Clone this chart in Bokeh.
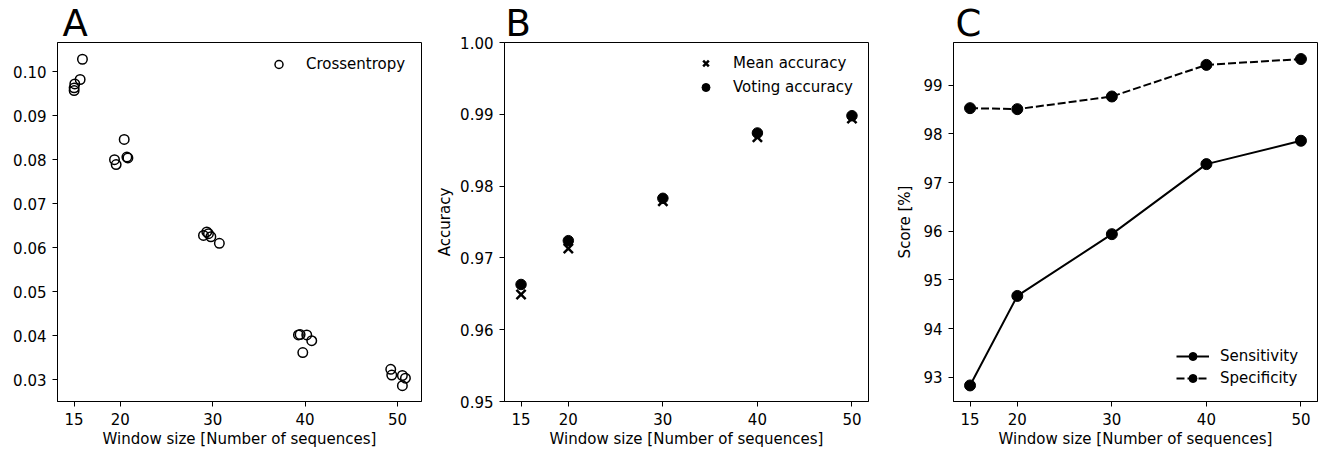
from bokeh.plotting import figure
from bokeh.models import Range1d, FixedTicker, Legend, LegendItem, NumeralTickFormatter
from bokeh.layouts import row
from bokeh.embed import file_html
from bokeh.resources import INLINE

FONT = "DejaVu Sans"
FS = "15px"

window_sizes = [15, 20, 30, 40, 50]
x_tick_labels = ["15", "20", "30", "40", "50"]
x_title = "Window size [Number of sequences]"

# Panel A: crossentropy per run (x slightly jittered around each window size)
ce_x = [15.0, 15.0, 15.07, 15.65, 15.9,
        19.37, 19.55, 20.42, 20.71, 20.82,
        29.0, 29.36, 29.54, 29.8, 30.72,
        39.28, 39.46, 39.75, 40.18, 40.72,
        49.27, 49.38, 50.53, 50.53, 50.86]
ce_y = [0.0957, 0.0963, 0.0972, 0.0982, 0.1028,
        0.0800, 0.0789, 0.0846, 0.0806, 0.0804,
        0.0628, 0.0636, 0.0632, 0.0625, 0.0610,
        0.0402, 0.0403, 0.0362, 0.0402, 0.0389,
        0.0324, 0.0311, 0.0310, 0.0287, 0.0304]
a_yticks = [0.03, 0.04, 0.05, 0.06, 0.07, 0.08, 0.09, 0.10]

# Panel B
mean_acc = [0.9649, 0.9713, 0.9779, 0.9868, 0.9894]
voting_acc = [0.9663, 0.9724, 0.9783, 0.9874, 0.9898]
b_yticks = [0.95, 0.96, 0.97, 0.98, 0.99, 1.00]

# Panel C
sensitivity = [92.83, 94.67, 95.94, 97.38, 97.86]
specificity = [98.53, 98.51, 98.77, 99.42, 99.54]
c_yticks = [93, 94, 95, 96, 97, 98, 99]

FRAME_W = 364
FRAME_H = 359
TOP = 42
BOTTOM = 48


def make_fig(letter, letter_offset, left, right, xr, yr, yticks, fmt,
             ylabel=None, ylabel_standoff=4):
    p = figure(frame_width=FRAME_W, frame_height=FRAME_H,
               x_range=Range1d(*xr), y_range=Range1d(*yr),
               output_backend="svg", toolbar_location=None,
               min_border_left=left, min_border_right=right,
               min_border_top=TOP, min_border_bottom=BOTTOM)
    p.background_fill_color = "white"
    p.border_fill_color = "white"
    p.outline_line_color = "black"
    p.outline_line_width = 1
    p.grid.visible = False
    # panel letter
    p.title.text = letter
    p.title.text_font = FONT
    p.title.text_font_size = "37px"
    p.title.text_font_style = "normal"
    p.title.text_color = "black"
    p.title.align = "left"
    p.title.offset = letter_offset
    p.title.standoff = -4
    p.xaxis.ticker = FixedTicker(ticks=window_sizes)
    p.xaxis.major_label_overrides = {w: s for w, s in zip(window_sizes, x_tick_labels)}
    p.yaxis.ticker = FixedTicker(ticks=yticks)
    p.yaxis.formatter = NumeralTickFormatter(format=fmt)
    for ax in p.axis:
        ax.axis_line_color = "black"
        ax.axis_line_width = 1
        ax.major_tick_out = 5
        ax.major_tick_in = 0
        ax.minor_tick_out = 0
        ax.minor_tick_in = 0
        ax.major_tick_line_color = "black"
        ax.major_tick_line_width = 1
        ax.major_label_text_font = FONT
        ax.major_label_text_font_size = FS
        ax.major_label_text_color = "black"
        ax.axis_label_text_font = FONT
        ax.axis_label_text_font_size = FS
        ax.axis_label_text_font_style = "normal"
        ax.axis_label_text_color = "black"
    p.xaxis.major_label_standoff = 6
    p.xaxis.axis_label = x_title
    p.xaxis.axis_label_standoff = 2
    p.yaxis.major_label_standoff = 6
    if ylabel:
        p.yaxis.axis_label = ylabel
        p.yaxis.axis_label_standoff = ylabel_standoff
    return p


def style_legend(leg, margin, label_width, spacing):
    leg.border_line_color = None
    leg.background_fill_alpha = 0
    leg.label_text_font = FONT
    leg.label_text_font_size = FS
    leg.label_text_color = "black"
    leg.glyph_width = 33
    leg.glyph_height = 20
    leg.label_height = 20
    leg.label_width = label_width
    leg.label_standoff = 11
    leg.padding = 0
    leg.margin = margin
    leg.spacing = spacing


# ---- Panel A
xrA = (13.2, 52.6)
yrA = (0.0251, 0.1066)
pA = make_fig("A", 5, 57, 9, xrA, yrA, a_yticks, "0.00")
rA = pA.scatter(ce_x, ce_y, marker="circle", size=9.5, fill_color=None,
                line_color="black", line_width=1.5)
legA = Legend(items=[LegendItem(label="Crossentropy", renderers=[rA])], location="top_right")
style_legend(legA, 12, 103, 4)
pA.add_layout(legA)

# ---- Panel B
xrB = (13.25, 51.75)
yrB = (0.95, 1.00)
pB = make_fig("B", 1, 74, 8, xrB, yrB, b_yticks, "0.00", ylabel="Accuracy", ylabel_standoff=3)
rBm = pB.scatter(window_sizes, mean_acc, marker="x", size=13, line_color="black", line_width=2.5)
rBv = pB.scatter(window_sizes, voting_acc, marker="circle", size=10.5, fill_color="black",
                 line_color="black")
legB = Legend(items=[LegendItem(label="Mean accuracy", renderers=[rBm]),
                     LegendItem(label="Voting accuracy", renderers=[rBv])],
              location="top_right")
style_legend(legB, 11, 124, 4)
pB.add_layout(legB)

# ---- Panel C
xrC = (13.25, 51.75)
yrC = (92.5, 99.88)
pC = make_fig("C", 2, 77, 4, xrC, yrC, c_yticks, "0", ylabel="Score [%]", ylabel_standoff=6)
lS = pC.line(window_sizes, sensitivity, line_color="black", line_width=2)
sS = pC.scatter(window_sizes, sensitivity, marker="circle", size=11, fill_color="black",
                line_color="black")
lP = pC.line(window_sizes, specificity, line_color="black", line_width=2, line_dash="8 3")
sP = pC.scatter(window_sizes, specificity, marker="circle", size=11, fill_color="black",
                line_color="black")
legC = Legend(items=[LegendItem(label="Sensitivity", renderers=[lS, sS]),
                     LegendItem(label="Specificity", renderers=[lP, sP])],
              location="bottom_right")
style_legend(legC, 13, 84, 2)
pC.add_layout(legC)

layout = row(pA, pB, pC, spacing=0)
open("out.html", "w").write(file_html(layout, INLINE))
